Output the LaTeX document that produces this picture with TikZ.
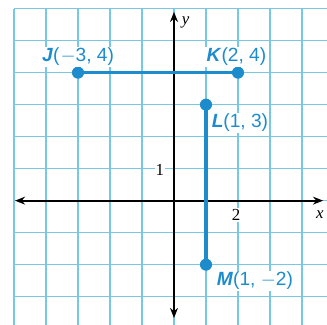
\documentclass[tikz,border=0pt]{standalone}
\usepackage{fontspec}
\setmainfont{Liberation Serif}
\newfontfamily\labfont{Liberation Sans}
\usetikzlibrary{arrows.meta}
\definecolor{gridc}{RGB}{120,200,228}
\definecolor{ptc}{RGB}{28,140,205}
\begin{document}
\begin{tikzpicture}[x=1cm,y=1cm,
  gridline/.style={draw=gridc,line width=1pt},
  axis/.style={draw=black,line width=1.6pt,-{Stealth[length=9pt,width=7pt]}},
  seg/.style={draw=ptc,line width=3pt},
  dot/.style={circle,fill=ptc,inner sep=0pt,minimum size=10.5pt},
  ptlab/.style={fill=white,inner sep=1pt,text=ptc,font=\labfont\fontsize{17}{20}\selectfont},
  ticklab/.style={fill=white,inner sep=1pt,font=\fontsize{15}{18}\selectfont}]
\useasboundingbox (-5.4375,-3.884) rectangle (4.781,6.27);
\fill[white] (-5.4375,-3.884) rectangle (4.781,6.27);
% grid
\foreach \i in {-5,...,4} \draw[gridline] (\i,-3.884) -- (\i,6);
\foreach \j in {-3,...,6} \draw[gridline] (-5,\j) -- (4.781,\j);
% tick labels
\node[ticklab] (one) at (-0.44,0.97) {1};
\node[ticklab] (two) at (1.94,-0.45) {2};
% axes
\coordinate (xl) at (-4.97,0);
\coordinate (xr) at (4.66,0);
\coordinate (yb) at (0,-3.67);
\coordinate (yt) at (0,5.9);
\draw[axis] (0,0) -- (xl);
\draw[axis] (0,0) -- (xr);
\draw[axis] (0,0) -- (yb);
\draw[axis] (0,0) -- (yt);
\node[font=\itshape\fontsize{15}{18}\selectfont] (xlab) at (4.56,-0.45) {x};
\node[font=\itshape\fontsize{15}{18}\selectfont] (ylab) at (0.36,5.56) {y};
% points
\node[dot] (J) at (-3,4) {};
\node[dot] (K) at (2,4) {};
\node[dot] (L) at (1,3) {};
\node[dot] (M) at (1,-2) {};
\draw[seg] (J.center) -- (K.center);
\draw[seg] (L.center) -- (M.center);
\node[dot] at (J) {};
\node[dot] at (K) {};
\node[dot] at (L) {};
\node[dot] at (M) {};
% labels
\node[ptlab] (Jlab) at (-3.0,4.49) {\textbf{\textit{J}}(\kern1pt$-$3, 4)};
\node[ptlab] (Klab) at (1.95,4.49) {\textbf{\textit{K}}(2, 4)};
\node[ptlab] (Llab) at (2.06,2.43) {\textbf{\textit{L}}(1, 3)};
\node[ptlab] (Mlab) at (2.53,-2.51) {\textbf{\textit{M}}(1, $-$2)};
\end{tikzpicture}
\end{document}
